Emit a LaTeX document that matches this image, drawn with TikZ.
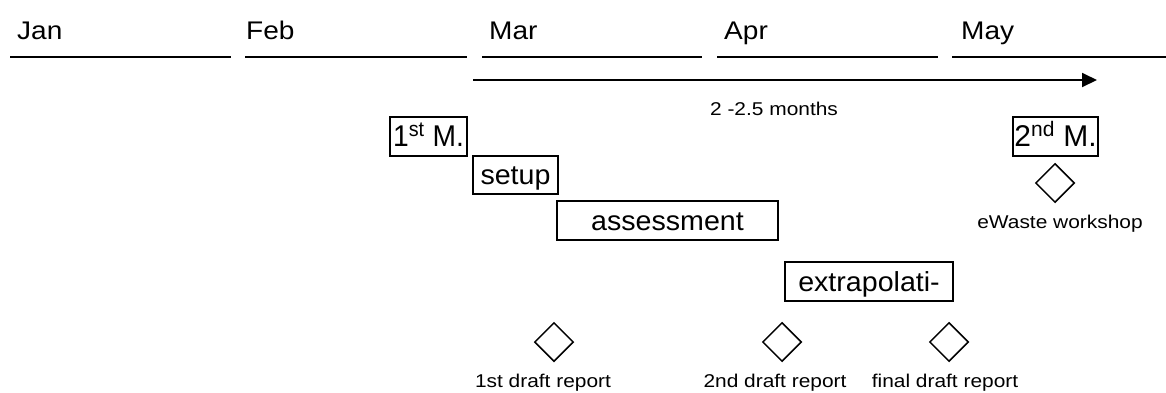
\documentclass[tikz,border=0pt]{standalone}
\usepackage{fontspec}
\setmainfont{Liberation Sans}
\usepackage{graphicx}
\usetikzlibrary{arrows.meta,shapes.geometric}
\newcommand\sx[1]{\scalebox{1.13}[1]{#1}}
\newcommand\sm[1]{\scalebox{1.1}[1]{#1}}
\newcommand\st[1]{\scalebox{1.04}[1]{#1}}
\newcommand\sq[1]{\scalebox{0.94}[1]{#1}}
\tikzset{
 month/.style={anchor=base west, inner sep=0, font=\fontsize{25.5}{25.5}\selectfont},
 mline/.style={line width=1.8pt},
 task/.style={draw, line width=1.6pt, inner sep=0, minimum height=39pt, text height=22pt, text depth=3pt, font=\fontsize{27.5}{27.5}\selectfont},
 mbox/.style={task, font=\fontsize{30}{30}\selectfont},
 ms/.style={draw, diamond, line width=1.5pt, minimum width=39pt, minimum height=39pt, inner sep=0},
 lbl/.style={anchor=base, inner sep=0, font=\fontsize{18.5}{18.5}\selectfont},
}
\begin{document}
\begin{tikzpicture}[x=1pt,y=-1pt]
\useasboundingbox (0,0) rectangle (1166,392);
% month labels
\node[month] (jan) at (17,39.5) {\sm{Jan}};
\node[month] (feb) at (246,39.5) {\sm{Feb}};
\node[month] (mar) at (489,39.5) {\sm{Mar}};
\node[month] (apr) at (724,39.5) {\sm{Apr}};
\node[month] (may) at (961,39.5) {\sm{May}};
% month lines
\draw[mline] (10,57) -- (231,57);
\draw[mline] (245,57) -- (467,57);
\draw[mline] (482,57) -- (702,57);
\draw[mline] (717,57) -- (938,57);
\draw[mline] (952,57) -- (1166,57);
% duration arrow
\coordinate (as) at (473,80);
\coordinate (ae) at (1097,80);
\draw[line width=1.8pt,-{Triangle[length=15pt,width=14pt]}] (as) -- (ae);
\node[lbl] (dur) at (774,115) {\sx{2 -2.5 months}};
% tasks
\node[mbox, minimum width=77pt] (m1) at (428.5,136.5) {\sq{1\textsuperscript{st} M.}};
\node[task, minimum width=85pt, minimum height=38pt] (setup) at (515.5,175) {\st{setup}\hspace{8pt}};
\node[task, minimum width=221pt] (assess) at (667.5,220.5) {\st{assessment}};
\node[task, minimum width=168pt] (extra) at (869,281.5) {\st{extrapolati-}};
\node[mbox, minimum width=85pt] (m2) at (1055.5,136.5) {2\textsuperscript{nd} M.};
% milestones
\node[ms] (d1) at (554,342) {};
\node[ms] (d2) at (782,342) {};
\node[ms] (d3) at (949,342) {};
\node[ms] (d4) at (1055,183) {};
\node[lbl] (l1) at (543,387) {\sx{1st draft report}};
\node[lbl] (l2) at (775,387) {\sx{2nd draft report}};
\node[lbl] (l3) at (945,387) {\sx{final draft report}};
\node[lbl] (l4) at (1060,228) {\sx{eWaste workshop}};
\end{tikzpicture}
\end{document}
